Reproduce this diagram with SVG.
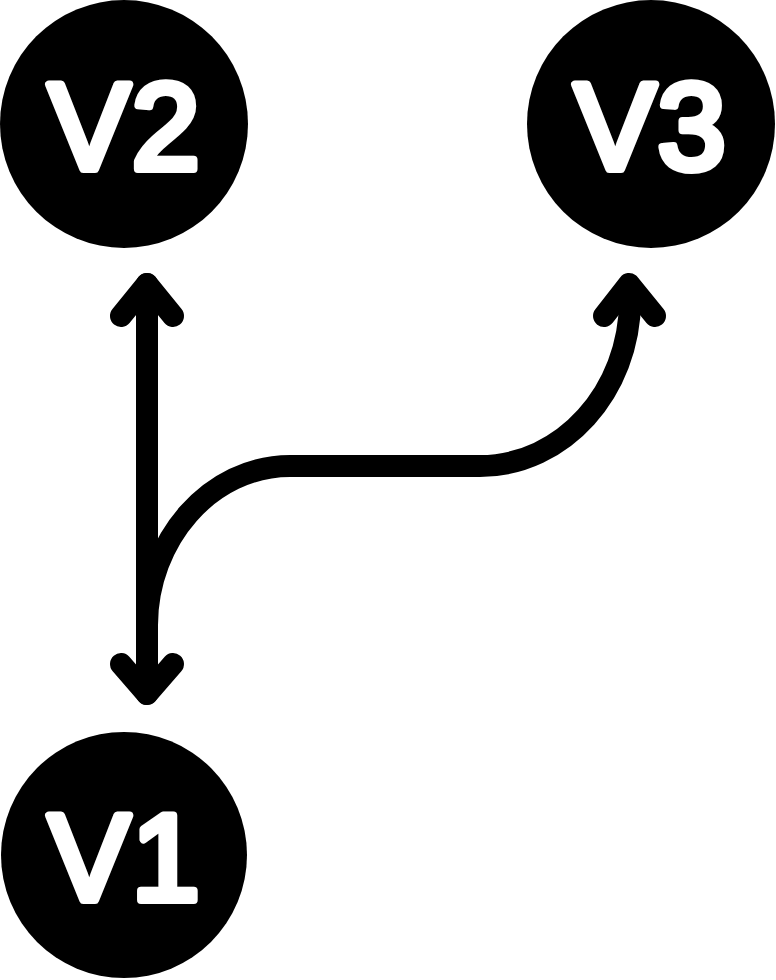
<svg xmlns="http://www.w3.org/2000/svg" width="776" height="980" viewBox="0 0 776 980">
  <style>
    .node { fill: #000; }
    .label { fill: #fff; stroke: #fff; stroke-width: 8; stroke-linejoin: round; stroke-linecap: round; font-family: "Liberation Sans", Arial, sans-serif; font-weight: normal; font-size: 122px; text-anchor: middle; letter-spacing: 2px; }
    .edge { fill: none; stroke: #000; stroke-width: 22; stroke-linecap: round; stroke-linejoin: round; }
  </style>
  <rect width="776" height="980" fill="#fff"/>
  <g id="v2">
    <circle class="node" cx="124" cy="124" r="124"/>
    <text class="label" x="125" y="169">V2</text>
  </g>
  <g id="v3">
    <circle class="node" cx="651" cy="124" r="124"/>
    <text class="label" x="651" y="169">V3</text>
  </g>
  <g id="v1">
    <circle class="node" cx="124" cy="855" r="123"/>
    <text class="label" x="125" y="900">V1</text>
  </g>
  <g id="connectors">
    <path class="edge" d="M147,284 L147,694"/>
    <polyline class="edge" points="121,316 147,284 173,316"/>
    <polyline class="edge" points="121,664 147,694 173,664"/>
    <path class="edge" d="M147,625 C147,540 210,466 290,466 L480,466 C563,466 630,391 630,300 L630,286"/>
    <polyline class="edge" points="604,316 629,284 655,316"/>
  </g>
</svg>
